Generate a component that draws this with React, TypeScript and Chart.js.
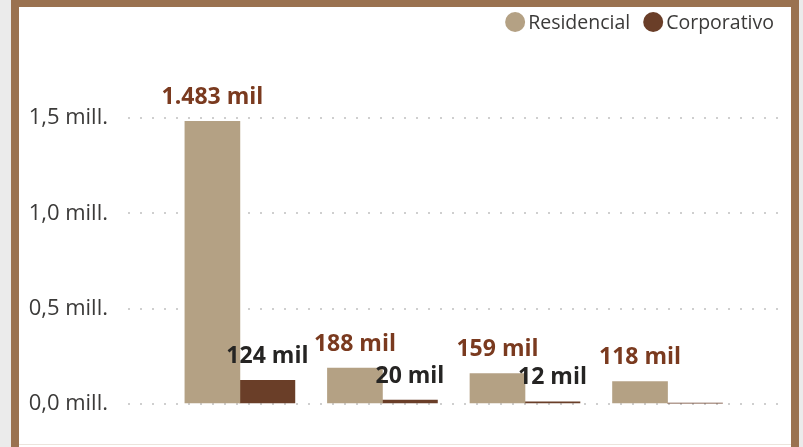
import React, { useEffect, useRef } from "react";
import { Chart, registerables } from "chart.js";

Chart.register(...registerables);

const categories = ["Grupo 1", "Grupo 2", "Grupo 3", "Grupo 4"];
const seriesNames = ["Residencial", "Corporativo"];
const residencialValues = [1483000, 188000, 159000, 118000];
const corporativoValues = [124000, 20000, 12000, 5000];
const residencialLabels = ["1.483 mil", "188 mil", "159 mil", "118 mil"];
const corporativoLabels = ["124 mil", "20 mil", "12 mil", ""];
const yTickValues = [0, 500000, 1000000, 1500000];
const yTickLabels = ["0,0 mill.", "0,5 mill.", "1,0 mill.", "1,5 mill."];

const RES_COLOR = "#b4a184";
const CORP_COLOR = "#6a3e28";
const FONT = "'Open Sans', 'Noto Sans', sans-serif";

const valueLabelPlugin = {
  id: "valueLabels",
  afterDatasetsDraw(chart: any) {
    const ctx = chart.ctx;
    const sets = [
      { labels: residencialLabels, color: "#7a3a1f" },
      { labels: corporativoLabels, color: "#252423" },
    ];
    ctx.save();
    ctx.font = `bold 23px ${FONT}`;
    ctx.textAlign = "center";
    ctx.textBaseline = "middle";
    chart.data.datasets.forEach((_ds: any, di: number) => {
      const meta = chart.getDatasetMeta(di);
      meta.data.forEach((el: any, i: number) => {
        const txt = sets[di].labels[i];
        if (!txt) return;
        ctx.fillStyle = sets[di].color;
        ctx.fillText(txt, el.x, el.y - 24);
      });
    });
    ctx.restore();
  },
};

const legendPlugin = {
  id: "customLegend",
  afterDraw(chart: any) {
    const ctx = chart.ctx;
    const colors = [RES_COLOR, CORP_COLOR];
    const r = 10;
    const gapText = 3;
    const gapItem = 13;
    const cy = 22;
    ctx.save();
    ctx.font = `19.5px ${FONT}`;
    ctx.textBaseline = "middle";
    ctx.textAlign = "left";
    const widths = seriesNames.map((n) => ctx.measureText(n).width);
    let total = 0;
    widths.forEach((w, i) => {
      total += 2 * r + gapText + w + (i < widths.length - 1 ? gapItem : 0);
    });
    let x = 774 - total;
    seriesNames.forEach((n, i) => {
      ctx.fillStyle = colors[i];
      ctx.beginPath();
      ctx.arc(x + r, cy, r, 0, Math.PI * 2);
      ctx.fill();
      x += 2 * r + gapText;
      ctx.fillStyle = "#3b3a39";
      ctx.fillText(n, x, cy + 1);
      x += widths[i] + gapItem;
    });
    ctx.restore();
  },
};

export default function App() {
  const ref = useRef<HTMLCanvasElement | null>(null);
  useEffect(() => {
    document.body.style.margin = "0";
    if (!ref.current) return;
    const chart = new Chart(ref.current, {
      type: "bar",
      data: {
        labels: categories,
        datasets: [
          {
            label: seriesNames[0],
            data: residencialValues.map((v, i) => ({ x: i, y: v })),
            backgroundColor: RES_COLOR,
          },
          {
            label: seriesNames[1],
            data: corporativoValues.map((v, i) => ({ x: i, y: v })),
            backgroundColor: CORP_COLOR,
          },
        ],
      },
      options: {
        responsive: false,
        animation: false,
        devicePixelRatio: 1,
        barThickness: 55,
        layout: { padding: { top: 0, left: 0, right: 25, bottom: 43 } },
        plugins: {
          tooltip: { enabled: false },
          legend: { display: false },
        },
        scales: {
          x: {
            type: "linear",
            position: "top",
            offset: false,
            min: -0.785,
            max: 3.775,
            ticks: { display: false },
            grid: { display: false },
            border: { display: false },
            afterFit: (s: any) => {
              s.height = 118;
            },
          },
          y: {
            min: 0,
            max: 1500000,
            afterFit: (s: any) => {
              s.width = 128;
            },
            afterBuildTicks: (s: any) => {
              s.ticks = yTickValues.map((v) => ({ value: v }));
            },
            ticks: {
              padding: 20,
              color: "#3b3a39",
              font: { family: FONT, size: 22 },
              callback: (v: any) => {
                const i = yTickValues.indexOf(Number(v));
                return i >= 0 ? yTickLabels[i] : "";
              },
            },
            grid: {
              drawTicks: false,
              color: "#cfcfcf",
              lineWidth: 2,
            },
            border: { display: false, dash: [2, 10] },
          },
        },
      } as any,
      plugins: [valueLabelPlugin, legendPlugin],
    });
    return () => chart.destroy();
  }, []);

  return (
    <div
      style={{
        position: "fixed",
        left: 0,
        top: 0,
        width: 803,
        height: 447,
        background: "#ebebeb",
        overflow: "hidden",
      }}
    >
      <div
        style={{
          position: "absolute",
          left: 11,
          top: 0,
          width: 772,
          height: 460,
          background: "#ffffff",
          borderTop: "7px solid #9a7250",
          borderLeft: "8px solid #9a7250",
          borderRight: "8px solid #9a7250",
        }}
      />
      <div
        style={{
          position: "absolute",
          left: 19,
          top: 444,
          width: 772,
          height: 1,
          background: "#ece4dc",
        }}
      />
      <canvas
        ref={ref}
        width={803}
        height={447}
        style={{ position: "absolute", left: 0, top: 0, width: 803, height: 447 }}
      />
    </div>
  );
}
